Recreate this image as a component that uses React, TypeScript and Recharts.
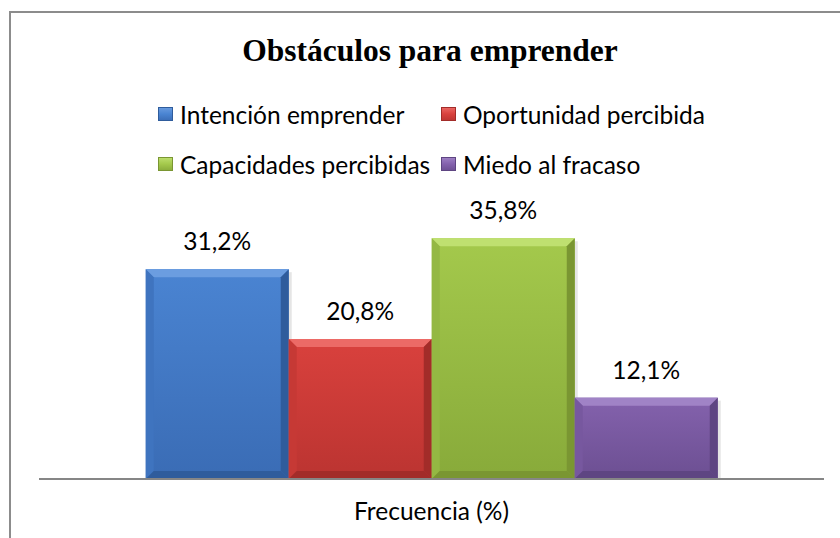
import React from 'react';
import { BarChart, Bar, XAxis, YAxis, Legend, LabelList } from 'recharts';

const categories = ['Frecuencia (%)'];
const seriesNames = ['Intención emprender', 'Oportunidad percibida', 'Capacidades percibidas', 'Miedo al fracaso'];
const intencion = [31.2];
const oportunidad = [20.8];
const capacidades = [35.8];
const miedo = [12.1];

const keys = ['intencion', 'oportunidad', 'capacidades', 'miedo'];
const palette = [
  { top: '#6b9de0', main: '#4a84d2', bottom: '#3a6cb5', side: '#3f74bf', dark: '#2f5c9c' },
  { top: '#ec6a66', main: '#d9413d', bottom: '#bb3431', side: '#c63935', dark: '#a22c29' },
  { top: '#bfe070', main: '#a4c94c', bottom: '#88aa3a', side: '#94b843', dark: '#7a9632' },
  { top: '#a083c6', main: '#8462ad', bottom: '#6c4f92', side: '#77589f', dark: '#5e4582' },
];

const textFont = 'Lato, sans-serif';

const data = categories.map((name, i) => ({
  name,
  intencion: intencion[i],
  oportunidad: oportunidad[i],
  capacidades: capacidades[i],
  miedo: miedo[i],
}));

const fmt = (v: any) => `${String(v).replace('.', ',')}%`;

const makeShape = (idx: number) => (props: any) => {
  const { x, y, width: w, height: h } = props;
  const c = palette[idx];
  const b = Math.min(8, h / 3);
  const id = `g${idx}`;
  return (
    <g>
      <defs>
        <linearGradient id={id} x1="0" y1="0" x2="0" y2="1">
          <stop offset="0%" stopColor={c.main} />
          <stop offset="100%" stopColor={c.bottom} />
        </linearGradient>
      </defs>
      <rect x={x + w} y={y + 3} width={3} height={h - 3} fill="#000" opacity={0.1} />
      <rect x={x} y={y} width={w} height={h} fill={`url(#${id})`} />
      <polygon points={`${x},${y} ${x + w},${y} ${x + w - b},${y + b} ${x + b},${y + b}`} fill={c.top} />
      <polygon points={`${x},${y} ${x + b},${y + b} ${x + b},${y + h - b} ${x},${y + h}`} fill={c.side} />
      <polygon points={`${x + w},${y} ${x + w - b},${y + b} ${x + w - b},${y + h - b} ${x + w},${y + h}`} fill={c.dark} />
      <polygon points={`${x},${y + h} ${x + b},${y + h - b} ${x + w - b},${y + h - b} ${x + w},${y + h}`} fill={c.dark} />
    </g>
  );
};

// zero height so the legend does not eat into the plot area
const LegendBox = () => {
  const cols = [158, 441];
  return (
    <div style={{ position: 'relative', width: 840, height: 0, overflow: 'visible' }}>
      {seriesNames.map((n, i) => {
        const c = palette[i];
        const left = cols[i % 2];
        const top = Math.floor(i / 2) * 50;
        return (
          <div key={n} style={{ position: 'absolute', left, top, display: 'flex', alignItems: 'center', height: 30 }}>
            <div
              style={{
                width: 15,
                height: 14,
                background: `linear-gradient(${c.top}, ${c.main} 50%, ${c.bottom})`,
                boxShadow: `inset 0 0 0 1px ${c.dark}`,
                marginRight: 7,
              }}
            />
            <span style={{ fontFamily: textFont, fontSize: 24.5, color: '#000', whiteSpace: 'nowrap' }}>{n}</span>
          </div>
        );
      })}
    </div>
  );
};

export default function App() {
  return (
    <div style={{ position: 'absolute', left: 0, top: 0, width: 840, height: 538, overflow: 'hidden', background: '#fff' }}>
      <div
        style={{
          position: 'absolute',
          left: 9,
          top: 11,
          width: 900,
          height: 600,
          borderLeft: '2px solid #8c8c8c',
          borderTop: '2px solid #8c8c8c',
        }}
      />
      <div
        style={{
          position: 'absolute',
          left: 0,
          top: 33,
          width: 860,
          textAlign: 'center',
          fontFamily: '"Liberation Serif", "Times New Roman", serif',
          fontWeight: 'bold',
          fontSize: 31.5,
          lineHeight: '36px',
          color: '#000',
        }}
      >
        Obstáculos para emprender
      </div>
      <div style={{ position: 'absolute', left: 0, top: 0 }}>
        <BarChart
          width={840}
          height={538}
          data={data}
          margin={{ top: 210, right: 16, left: 39, bottom: 0 }}
          barCategoryGap="13.6%"
          barGap={0}
        >
          <XAxis
            dataKey="name"
            height={59}
            axisLine={{ stroke: '#868686', strokeWidth: 2 }}
            tickLine={false}
            tick={{ fill: '#000', fontSize: 24.5, fontFamily: textFont }}
            tickMargin={18}
          />
          <YAxis hide domain={[0, 40]} />
          <Legend content={<LegendBox />} wrapperStyle={{ top: 99, left: 0, width: 840 }} />
          {keys.map((k, i) => (
            <Bar key={k} dataKey={k} name={seriesNames[i]} isAnimationActive={false} shape={makeShape(i)}>
              <LabelList
                dataKey={k}
                position="top"
                offset={19}
                formatter={fmt}
                style={{ fill: '#000', fontSize: 24.5, fontFamily: textFont }}
              />
            </Bar>
          ))}
        </BarChart>
      </div>
    </div>
  );
}
